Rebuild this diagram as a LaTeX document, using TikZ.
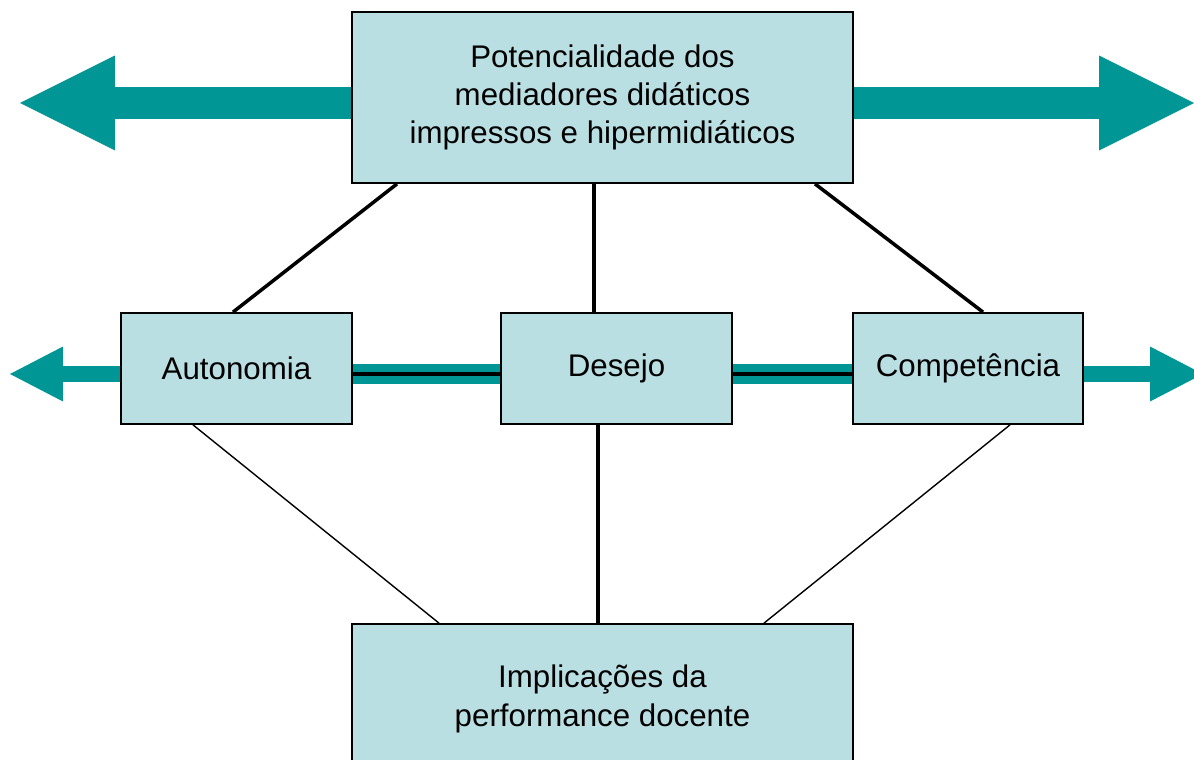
\documentclass[tikz,border=0pt]{standalone}
\usepackage{fontspec}
\setmainfont{Liberation Sans}
\usepackage{xcolor}
\usepackage{tikz}
\usetikzlibrary{positioning, calc, arrows.meta}

\definecolor{boxfill}{RGB}{186,223,227}
\definecolor{arrowteal}{RGB}{0,150,150}

\tikzset{
    panel/.style={draw=black, line width=1pt, fill=boxfill, align=center,
        inner sep=0pt, font=\fontsize{17.8}{21.8}\selectfont},
    bigarrow/.style={arrowteal, line width=0.64cm,
        -{Triangle[length=1.9cm, width=1.9cm, line width=0pt]}},
    smallarrow/.style={arrowteal, line width=0.32cm,
        -{Triangle[length=1.06cm, width=1.1cm, line width=0pt]}},
    link/.style={black, line width=2pt},
    thinlink/.style={black, line width=0.8pt}
}

\begin{document}
\begin{tikzpicture}[x=0.02cm, y=-0.02cm]

        \clip (0,0) rectangle (1194,760);
        \fill[white] (0,0) rectangle (1194,760);

        % Boxes
        \node[panel, minimum width=501*0.02cm, minimum height=171*0.02cm] (top) at (602.5,97.5)
            {Potencialidade dos\\mediadores didáticos\\impressos e hipermidiáticos};
        \node[panel, minimum width=231*0.02cm, minimum height=111*0.02cm] (auto) at (236.5,368.5) {Autonomia};
        \node[panel, minimum width=231*0.02cm, minimum height=111*0.02cm] (des) at (616.5,368.5) {Desejo};
        \node[panel, minimum width=230*0.02cm, minimum height=111*0.02cm] (comp) at (968,368.5) {Competência};
        \node[panel, minimum width=501*0.02cm, minimum height=150*0.02cm] (impl) at (602.5,699)
            {Implicações da\\performance docente};

        % Arrow tips
        \coordinate (tipTL) at (20,103);
        \coordinate (tipTR) at (1194,103);
        \coordinate (tipML) at (10,374);
        \coordinate (tipMR) at (1203,374);

        % Big arrows
        \draw[bigarrow] (top.west |- tipTL) -- (tipTL);
        \draw[bigarrow] (top.east |- tipTR) -- (tipTR);
        \draw[smallarrow] (auto.west |- tipML) -- (tipML);
        \draw[smallarrow] (comp.east |- tipMR) -- (tipMR);

        % Bands between the middle boxes
        \foreach \a/\b in {auto/des, des/comp} {
            \draw[arrowteal, line width=0.4cm] (\a.east |- tipML) -- (\b.west |- tipML);
            \draw[black, line width=0.08cm] (\a.east |- tipML) -- (\b.west |- tipML);
        }

        % Upper links
        \draw[link] (top.south -| 397,0) -- (auto.north -| 233,0);
        \draw[link] (top.south -| 594,0) -- (des.north -| 594,0);
        \draw[link] (top.south -| 815,0) -- (comp.north -| 983,0);

        % Lower links
        \draw[thinlink] (auto.south -| 193,0) -- (impl.north -| 439,0);
        \draw[link] (des.south -| 598,0) -- (impl.north -| 598,0);
        \draw[thinlink] (comp.south -| 1010,0) -- (impl.north -| 764,0);

    \end{tikzpicture}
\end{document}
